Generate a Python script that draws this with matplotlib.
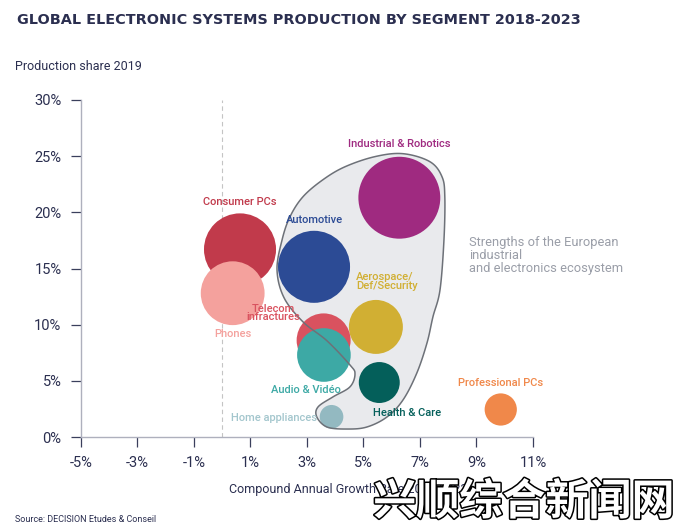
import matplotlib
matplotlib.use("Agg")
import matplotlib.pyplot as plt
import matplotlib.patheffects as pe
from matplotlib.patches import Polygon
import numpy as np

plt.rcParams['font.family'] = ['Roboto', 'DejaVu Sans']

# data
segments = ["Consumer PCs", "Phones", "Automotive", "Industrial & Robotics",
            "Aerospace/Def/Security", "Telecom infractures", "Audio & Vidéo",
            "Health & Care", "Home appliances", "Professional PCs"]
cagr = [0.63, 0.37, 3.25, 6.27, 5.44, 3.59, 3.60, 5.56, 3.87, 9.86]
share = [16.7, 12.8, 15.15, 21.3, 9.8, 8.6, 7.3, 4.85, 1.8, 2.45]
weight = [130, 102, 130, 168, 73, 73, 72, 42, 14, 26]
colors = ["#c13a4b", "#f4a19d", "#2c4b95", "#9f2a80", "#d1af33",
          "#d9525f", "#3da9a5", "#045f5a", "#93b9c1", "#f0884a"]

xticks = [-5, -3, -1, 1, 3, 5, 7, 9, 11]
yticks = [0, 5, 10, 15, 20, 25, 30]

# outline of the "European strengths" zone (data coords)
blob_x = [6.40, 7.35, 7.78, 7.88, 7.85, 7.71, 7.46, 7.25, 6.89, 6.40, 5.83, 5.12,
          4.42, 3.71, 3.35, 3.39, 3.92, 4.52, 4.70, 4.52, 3.71, 2.86, 2.19, 1.94,
          2.12, 2.40, 2.86, 3.57, 4.35, 5.41]
blob_y = [25.22, 24.51, 23.17, 21.39, 17.56, 13.10, 10.70, 8.38, 5.70, 3.30, 1.78, 0.89,
          0.71, 0.89, 1.78, 2.67, 3.57, 4.46, 5.61, 6.42, 8.56, 10.25, 12.39, 14.88,
          17.56, 19.61, 21.39, 22.91, 24.06, 24.96]

navy = "#2b2f50"


def smooth_closed(xs, ys, n=20):
    p = np.column_stack([xs, ys])
    m = len(p)
    out = []
    for i in range(m):
        p0, p1, p2, p3 = p[i - 1], p[i], p[(i + 1) % m], p[(i + 2) % m]
        for t in np.linspace(0, 1, n, endpoint=False):
            t2, t3 = t * t, t * t * t
            out.append(0.5 * ((2 * p1) + (-p0 + p2) * t +
                              (2 * p0 - 5 * p1 + 4 * p2 - p3) * t2 +
                              (-p0 + 3 * p1 - 3 * p2 + p3) * t3))
    return np.array(out)


fig = plt.figure(figsize=(6.81, 5.31), dpi=100)
ax = fig.add_axes([0.1189, 0.177, 0.6637, 0.6347])
ax.set_xlim(-5, 11)
ax.set_ylim(0, 30)

outline = smooth_closed(blob_x, blob_y)
ax.add_patch(Polygon(outline, closed=True, facecolor="#e9eaed", edgecolor="none", zorder=1, clip_on=False))
ax.add_patch(Polygon(outline, closed=True, facecolor="none", edgecolor="#6d7178", lw=1.1, zorder=3, clip_on=False))

ax.axvline(0, color="#c4c4c4", lw=0.8, ls=(0, (4, 3)), zorder=0)

ax.scatter(cagr, share, s=[w * 20.7 for w in weight], c=colors, edgecolors="none", zorder=2, clip_on=False)

fs = 8
fw = "medium"
ax.text(6.27, 25.6, "Industrial & Robotics", color=colors[3], fontsize=fs, fontweight=fw, ha="center", va="bottom")
ax.text(0.63, 20.5, "Consumer PCs", color=colors[0], fontsize=fs, fontweight=fw, ha="center", va="bottom")
ax.text(3.25, 18.9, "Automotive", color=colors[2], fontsize=fs, fontweight=fw, ha="center", va="bottom")
ax.text(4.75, 14.7, "Aerospace/\nDef/Security", color=colors[4], fontsize=fs, fontweight=fw, ha="left", va="top",
        linespacing=0.95)
ax.text(2.75, 11.85, "Telecom\ninfractures", color=colors[5], fontsize=fs, fontweight=fw, ha="right", va="top",
        linespacing=0.75, multialignment="center")
ax.text(0.37, 9.2, "Phones", color=colors[1], fontsize=fs, fontweight=fw, ha="center", va="center")
ax.text(2.95, 4.2, "Audio & Vidéo", color=colors[6], fontsize=fs, fontweight=fw, ha="center", va="center")
ax.text(3.35, 1.65, "Home appliances", color="#a3c6cd", fontsize=fs, fontweight=fw, ha="right", va="center")
ax.text(6.55, 2.1, "Health & Care", color=colors[7], fontsize=fs, fontweight=fw, ha="center", va="center")
ax.text(9.87, 4.8, "Professional PCs", color=colors[9], fontsize=fs, fontweight=fw, ha="center", va="center")
ax.text(8.75, 17.9, "Strengths of the European\nindustrial\nand electronics ecosystem",
        color="#9a9ea8", fontsize=9.3, ha="left", va="top", linespacing=1.0)

for s in ["top", "right"]:
    ax.spines[s].set_visible(False)
for s in ["left", "bottom"]:
    ax.spines[s].set_color("#aeb0bd")
    ax.spines[s].set_linewidth(1.0)
ax.set_xticks(xticks)
ax.set_xticklabels([f"{t}%" for t in xticks])
ax.set_yticks(yticks)
ax.set_yticklabels([f"{t}%" for t in yticks])
ax.tick_params(length=7, width=0.9, color="#3a3f5c", labelcolor=navy, labelsize=10.5, pad=7)

fig.text(0.025, 0.962, "GLOBAL ELECTRONIC SYSTEMS PRODUCTION BY SEGMENT 2018-2023",
         fontsize=10.4, fontweight="bold", color=navy, family="DejaVu Sans", va="center")
fig.text(0.022, 0.874, "Production share 2019", fontsize=9, color=navy, va="center")
fig.text(0.336, 0.079, "Compound Annual Growth Rate 2018-2023", fontsize=9, color=navy, va="center")
fig.text(0.022, 0.021, "Source: DECISION Etudes & Conseil", fontsize=6.5, color=navy, va="center")

fig.text(0.99, 0.055, "兴顺综合新闻网", fontsize=31, fontweight="bold", color="white",
         family=["Noto Sans CJK SC", "DejaVu Sans"], ha="right", va="center",
         path_effects=[pe.withStroke(linewidth=2.2, foreground="black")])

fig.savefig("out.png", dpi=100)
